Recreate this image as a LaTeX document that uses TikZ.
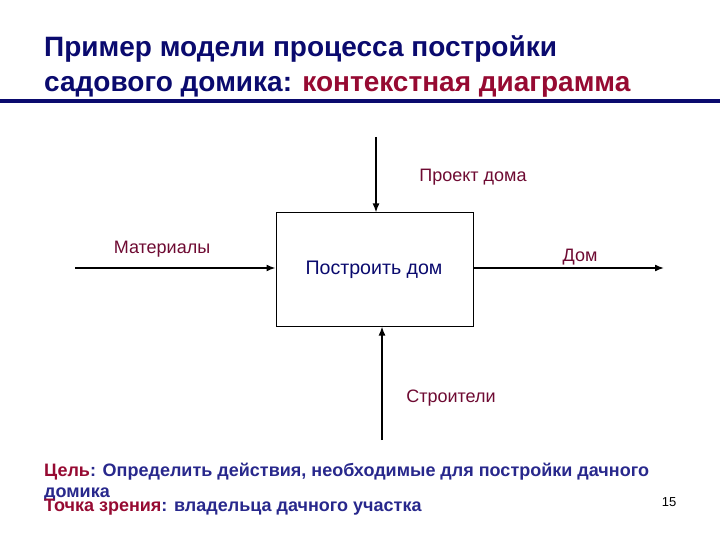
\documentclass[tikz,border=0pt]{standalone}
\usepackage{fontspec}
\setmainfont{Liberation Sans}
\usepackage{tikz}
\usetikzlibrary{arrows.meta}
\definecolor{navy}{RGB}{10,10,110}
\definecolor{wine}{RGB}{150,10,50}
\definecolor{lbl}{RGB}{110,10,50}
\definecolor{goal}{RGB}{40,40,140}

\begin{document}
\begin{tikzpicture}[x=1pt,y=-1pt,
    flow/.style={line width=1.6pt, -{Latex[length=9pt,width=7pt]}},
    lab/.style={font=\fontsize{18}{18}\selectfont, text=lbl, inner sep=0pt}]
    \useasboundingbox (0,0) rectangle (720,540);
    % title
    \node[anchor=base west, inner sep=0pt, text=navy, font=\bfseries\fontsize{28}{28}\selectfont] (t1) at (44,57) {Пример модели процесса постройки};
    \node[anchor=base west, inner sep=0pt, text=navy, font=\bfseries\fontsize{28}{28}\selectfont] (t2) at (44,92) {садового домика: \textcolor{wine}{контекстная диаграмма}};
    \fill[navy] (0,99.5) rectangle (720,103);

    % the function box
    \node[draw, line width=1pt, minimum width=197pt, minimum height=113pt, inner sep=0pt] (box) at (374.5,269.5) {};
    \node[text=navy, font=\fontsize{19.6}{20}\selectfont, inner sep=0pt] (fn) at (374,270) {Построить дом};
    \coordinate (in) at (75,268); \coordinate (out) at (664,268);
    \coordinate (ctl) at (376,137); \coordinate (mech) at (382,440);
    \draw[flow] (in) -- (box.west |- in);
    \draw[flow] (box.east |- out) -- (out);
    \draw[flow] (ctl) -- (ctl |- box.north);
    \draw[flow] (mech) -- (mech |- box.south);
    \node[lab] (mat) at (162,249) {Материалы};
    \node[lab] (prj) at (473,177) {Проект дома};
    \node[lab] (dom) at (580,257) {Дом};
    \node[lab] (bld) at (451,398) {Строители};

    % goal and viewpoint
    \node[anchor=base west, inner sep=0pt, text=goal, font=\bfseries\fontsize{18}{18}\selectfont] (goal) at (44,476) {\textcolor{wine}{Цель}: Определить действия, необходимые для постройки дачного};
    \node[anchor=base west, inner sep=0pt, text=goal, font=\bfseries\fontsize{18}{18}\selectfont] (goal2) at (44,497) {домика};
    \node[anchor=base west, inner sep=0pt, text=goal, font=\bfseries\fontsize{18}{18}\selectfont] (view) at (44,511) {\textcolor{wine}{Точка зрения}: владельца дачного участка};
    \node[anchor=base, inner sep=0pt, font=\fontsize{13}{13}\selectfont] (pg) at (669,506) {15};
\end{tikzpicture}
\end{document}
